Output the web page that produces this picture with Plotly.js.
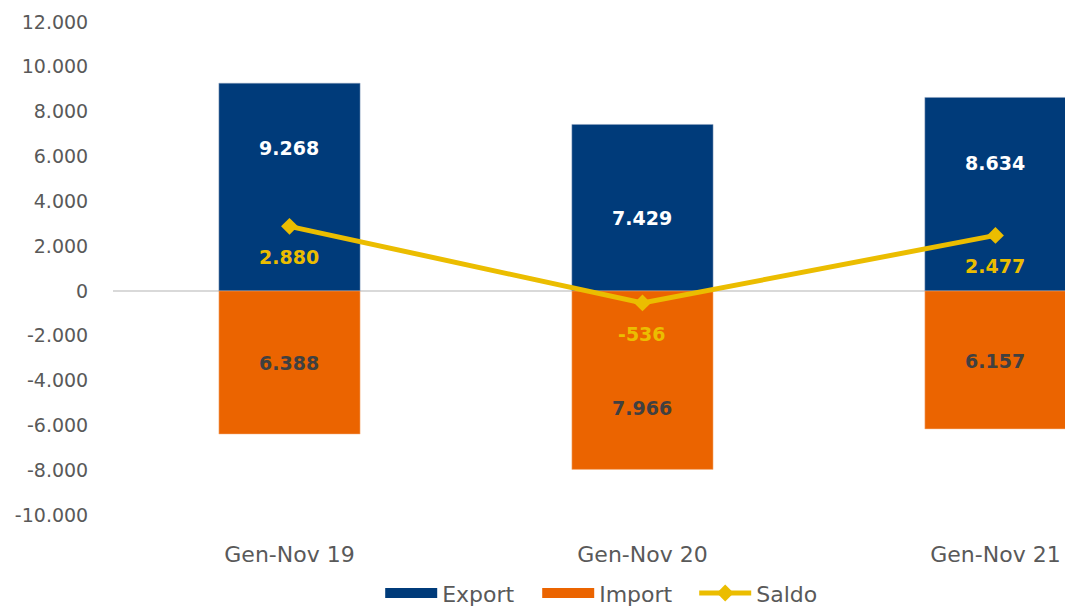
<!DOCTYPE html>
<html>
<head>
<meta charset="utf-8">
<script src="https://cdn.plot.ly/plotly-3.0.1.min.js"></script>
<style>
html,body{margin:0;padding:0;background:#fff;}
#chart{width:1065px;height:609px;}
</style>
</head>
<body>
<div id="chart"></div>
<script>
// ---- Data ----
const categories = ["Gen-Nov 19", "Gen-Nov 20", "Gen-Nov 21"];
const exportVals = [9268, 7429, 8634];
const importVals = [6388, 7966, 6157];
const saldoVals = [2880, -536, 2477];
const tickVals = [-10000, -8000, -6000, -4000, -2000, 0, 2000, 4000, 6000, 8000, 10000, 12000];
// label placement (layout, in axis units)
const exportLabelY = [6380, 3260, 5710];
const importLabelY = [-3210, -5220, -3120];

function fmt(v) {
  const neg = v < 0;
  let s = String(Math.abs(Math.round(v)));
  s = s.replace(/\B(?=(\d{3})+(?!\d))/g, ".");
  return (neg ? "-" : "") + s;
}

const FONT = "DejaVu Sans";
const cExport = "#003B7A", cImport = "#EB6400", cSaldo = "#EBBD00";

const traces = [
  {type: "bar", name: "Export", x: categories, y: exportVals, width: 0.4, showlegend: false,
   marker: {color: cExport, line: {color: "#8FA3BF", width: 0.5}}, hoverinfo: "skip"},
  {type: "bar", name: "Import", x: categories, y: importVals.map(v => -v), width: 0.4, showlegend: false,
   marker: {color: cImport, line: {color: "#F4B98A", width: 0.5}}, hoverinfo: "skip"},
  {type: "scatter", mode: "lines+markers", name: "Saldo", x: categories, y: saldoVals,
   line: {color: cSaldo, width: 5}, marker: {symbol: "diamond", size: 13, color: cSaldo},
   hoverinfo: "skip", showlegend: false},
  // legend entries (wide swatches, as in the reference)
  {type: "scatter", mode: "lines", name: "Export", x: [null], y: [null],
   line: {color: cExport, width: 12}, hoverinfo: "skip"},
  {type: "scatter", mode: "lines", name: "Import", x: [null], y: [null],
   line: {color: cImport, width: 12}, hoverinfo: "skip"},
  {type: "scatter", mode: "lines+markers", name: "Saldo", x: [null], y: [null],
   line: {color: cSaldo, width: 5}, marker: {symbol: "diamond", size: 13, color: cSaldo},
   hoverinfo: "skip"}
];

const annotations = [];
categories.forEach((c, i) => {
  annotations.push({x: c, y: exportLabelY[i], text: fmt(exportVals[i]), showarrow: false,
    font: {family: FONT, size: 19, color: "#FFFFFF", weight: "bold"}});
  annotations.push({x: c, y: importLabelY[i], text: fmt(importVals[i]), showarrow: false,
    font: {family: FONT, size: 19, color: "#404040", weight: "bold"}});
  annotations.push({x: c, y: saldoVals[i], yshift: -31, text: fmt(saldoVals[i]), showarrow: false,
    font: {family: FONT, size: 19, color: cSaldo, weight: "bold"}});
});

const layout = {
  width: 1065, height: 609,
  margin: {l: 113, r: 0, t: 22, b: 94, pad: 0},
  paper_bgcolor: "#fff", plot_bgcolor: "#fff",
  barmode: "overlay",
  showlegend: true,
  font: {family: FONT, color: "#595959", size: 19},
  xaxis: {type: "category", range: [-0.5, 2.197], showgrid: false, zeroline: false,
    showline: false, ticks: "outside", ticklen: 20, tickcolor: "rgba(0,0,0,0)",
    tickfont: {family: FONT, size: 22, color: "#595959"}, fixedrange: true},
  yaxis: {range: [-10000, 12000], tickvals: tickVals, ticktext: tickVals.map(fmt),
    showgrid: false, zeroline: true, zerolinecolor: "#D9D9D9", zerolinewidth: 2,
    showline: false, ticks: "outside", ticklen: 20, tickcolor: "rgba(0,0,0,0)",
    tickfont: {family: FONT, size: 19, color: "#595959"}, fixedrange: true},
  legend: {orientation: "h", xref: "container", yref: "container", x: 0.357, xanchor: "left",
    y: 0.026, yanchor: "middle", font: {family: FONT, size: 22, color: "#595959"},
    itemwidth: 52, entrywidth: 90, entrywidthmode: "pixels", tracegroupgap: 0, traceorder: "normal"},
  annotations: annotations
};

Plotly.newPlot("chart", traces, layout, {displayModeBar: false, staticPlot: true});
</script>
</body>
</html>
